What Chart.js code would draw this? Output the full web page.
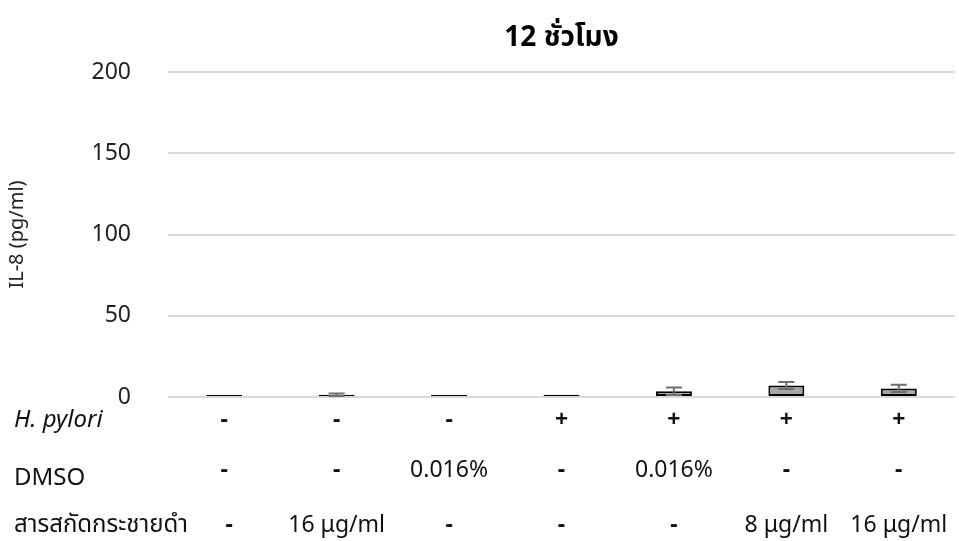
<!DOCTYPE html>
<html>
<head>
<meta charset="utf-8">
<script src="https://cdn.jsdelivr.net/npm/chart.js@4"></script>
<style>
  html, body { margin: 0; padding: 0; background: #fff; }
  #wrap { width: 959px; height: 541px; }
</style>
</head>
<body>
<div id="wrap"><canvas id="chart" width="959" height="541"></canvas></div>
<script>
const groups = ["g1", "g2", "g3", "g4", "g5", "g6", "g7"];
const hpylori = ["-", "-", "-", "+", "+", "+", "+"];
const dmso = ["-", "-", "0.016%", "-", "0.016%", "-", "-"];
const extract = ["-", "16 μg/ml", "-", "-", "-", "8 μg/ml", "16 μg/ml"];
const rowNames = ["H. pylori", "DMSO", "สารสกัดกระชายดำ"];
const il8 = [1.2, 1.4, 1.2, 1.4, 3.6, 7.1, 5.3];
const il8Err = [0, 0.8, 0, 0, 2.3, 2.2, 2.2];
const yTicks = [0, 50, 100, 150, 200];

const FONT = '"Noto Sans", "Noto Sans Thai", "DejaVu Sans", sans-serif';

// error bars on top of each bar, placed with the chart's own scales
const errorBars = {
  id: "errorBars",
  afterDatasetsDraw(chart) {
    const ctx = chart.ctx;
    const x = chart.scales.x, y = chart.scales.y;
    ctx.save();
    ctx.strokeStyle = "#6e6e6e";
    ctx.lineWidth = 2;
    il8.forEach((v, i) => {
      const e = il8Err[i];
      if (!e) return;
      const cx = x.getPixelForValue(i);
      const top = y.getPixelForValue(v + e);
      const bot = y.getPixelForValue(v - e);
      ctx.beginPath();
      ctx.moveTo(cx, top); ctx.lineTo(cx, bot);
      ctx.moveTo(cx - 8, top); ctx.lineTo(cx + 8, top);
      ctx.moveTo(cx - 8, bot); ctx.lineTo(cx + 8, bot);
      ctx.stroke();
    });
    ctx.restore();
  }
};

// title and the treatment table under the bars
const labelTable = {
  id: "labelTable",
  afterDraw(chart) {
    const ctx = chart.ctx;
    const x = chart.scales.x;
    const area = chart.chartArea;
    ctx.save();
    ctx.fillStyle = "#000";
    ctx.textBaseline = "middle";
    ctx.textAlign = "center";
    ctx.font = "bold 28px " + FONT;
    ctx.fillText("12 ชั่วโมง", (area.left + area.right) / 2, 38);

    const rows = [hpylori, dmso, extract];
    const rowY = [420, 470, 525];
    ctx.textAlign = "left";
    ctx.fillStyle = "#111";
    rowNames.forEach((name, r) => {
      ctx.font = (r === 0 ? "italic " : "") + "24px " + FONT;
      ctx.fillText(name, 14, rowY[r] + (r === 1 ? 8 : 0));
    });
    ctx.textAlign = "center";
    rows.forEach((row, r) => {
      row.forEach((txt, i) => {
        const sign = txt === "-" || txt === "+";
        ctx.font = (sign ? "bold 23px " : "23px ") + FONT;
        ctx.fillText(txt, x.getPixelForValue(i) + (r === 2 && i === 0 ? 5 : 0), rowY[r]);
      });
    });
    ctx.restore();
  }
};

new Chart(document.getElementById("chart"), {
  type: "bar",
  data: {
    labels: groups,
    datasets: [{
      data: il8,
      backgroundColor: "#a6a6a6",
      borderColor: "#000",
      borderWidth: 2,
      borderSkipped: false,
      barPercentage: 0.32,
      categoryPercentage: 1
    }]
  },
  options: {
    responsive: false,
    animation: false,
    layout: { padding: { top: 72, right: 4, left: 0, bottom: 0 } },
    plugins: {
      legend: { display: false },
      title: { display: false },
      tooltip: { enabled: false }
    },
    scales: {
      x: {
        grid: { display: false },
        border: { display: false },
        ticks: { display: false },
        afterFit(scale) { scale.height = 144; }
      },
      y: {
        min: 0,
        max: 200,
        afterBuildTicks(scale) { scale.ticks = yTicks.map(v => ({ value: v })); },
        afterFit(scale) { scale.width = 168; },
        grid: { color: "#d9d9d9", lineWidth: 2, drawTicks: false },
        border: { display: false },
        ticks: {
          padding: 37,
          color: "#222",
          font: { family: FONT, size: 23 }
        },
        title: {
          display: true,
          text: "IL-8 (pg/ml)",
          color: "#222",
          font: { family: FONT, size: 20 },
          padding: { top: 5, bottom: 0 }
        }
      }
    }
  },
  plugins: [errorBars, labelTable]
});
</script>
</body>
</html>
